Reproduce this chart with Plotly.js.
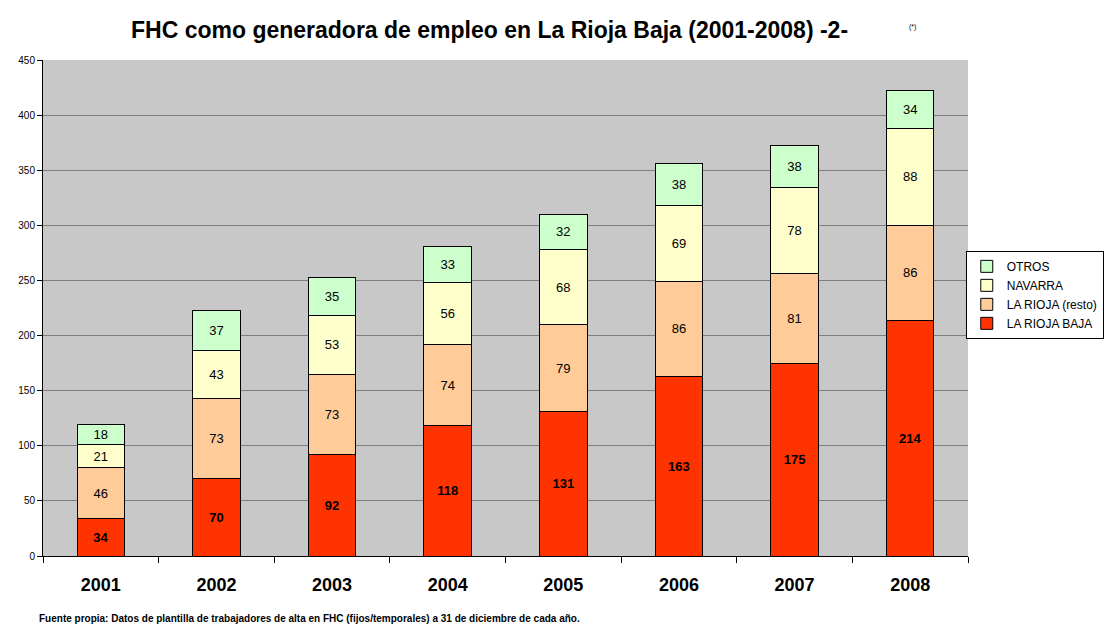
<!DOCTYPE html>
<html>
<head>
<meta charset="utf-8">
<script src="https://cdn.plot.ly/plotly-3.0.1.min.js"></script>
<style>body{margin:0;background:#fff}</style>
</head>
<body>
<div id="chart" style="width:1105px;height:624px"></div>
<script>
const years = ['2001', '2002', '2003', '2004', '2005', '2006', '2007', '2008'];
const riojaBaja = [34, 70, 92, 118, 131, 163, 175, 214];
const riojaResto = [46, 73, 73, 74, 79, 86, 81, 86];
const navarra = [21, 43, 53, 56, 68, 69, 78, 88];
const otros = [18, 37, 35, 33, 32, 38, 38, 34];

const FONT = 'Liberation Sans, Arial, sans-serif';

function series(name, vals, color, bold) {
    return {
        x: years,
        y: vals,
        name: name,
        type: 'bar',
        text: vals.map(v => bold ? '<b>' + v + '</b>' : String(v)),
        textposition: 'inside',
        insidetextanchor: 'middle',
        textangle: 0,
        constraintext: 'none',
        textfont: {family: FONT, size: 13, color: '#000'},
        marker: {color: color, line: {color: '#000', width: 1}},
        hoverinfo: 'x+y+name'
    };
}

var data = [
    series('LA RIOJA BAJA', riojaBaja, '#ff3300', true),
    series('LA RIOJA (resto)', riojaResto, '#ffcc99', false),
    series('NAVARRA', navarra, '#ffffcc', false),
    series('OTROS', otros, '#ccffcc', false)
];

var layout = {
    width: 1105,
    height: 624,
    margin: {l: 43, r: 137, t: 60, b: 68, autoexpand: false},
    barmode: 'stack',
    bargap: 0.59,
    paper_bgcolor: '#fff',
    plot_bgcolor: '#c8c8c8',
    font: {family: FONT, color: '#000'},
    showlegend: true,
    legend: {
        xref: 'container', yref: 'container',
        x: 0.874, y: 0.598, xanchor: 'left', yanchor: 'top',
        traceorder: 'reversed',
        bgcolor: '#fff',
        bordercolor: '#000',
        borderwidth: 1,
        font: {family: FONT, size: 12},
        itemwidth: 30,
        tracegroupgap: 0
    },
    xaxis: {
        type: 'category',
        showline: true,
        linecolor: '#000',
        ticks: 'outside',
        tickson: 'boundaries',
        ticklen: 6,
        tickcolor: '#000',
        ticklabelstandoff: 12,
        tickfont: {family: FONT, size: 18, color: '#000', weight: 'bold'},
        showgrid: false
    },
    yaxis: {
        range: [0, 450],
        dtick: 50,
        showline: true,
        linecolor: '#000',
        ticks: 'outside',
        ticklen: 5,
        tickcolor: '#000',
        tickfont: {family: FONT, size: 10, color: '#000'},
        gridcolor: '#7f7f7f',
        gridwidth: 1,
        zeroline: false
    },
    annotations: [
        {
            text: '<b>FHC como generadora de empleo en La Rioja Baja (2001-2008) -2-</b>',
            xref: 'paper', yref: 'paper', x: 0.483, y: 1, yshift: 30,
            xanchor: 'center', yanchor: 'middle', showarrow: false,
            font: {family: FONT, size: 23, color: '#000'}
        },
        {
            text: '(*)',
            xref: 'paper', yref: 'paper', x: 0.94, y: 1, yshift: 33,
            xanchor: 'center', yanchor: 'middle', showarrow: false,
            font: {family: FONT, size: 7, color: '#000'}
        },
        {
            text: '<b>Fuente propia: Datos de plantilla de trabajadores de alta en FHC (fijos/temporales) a 31 de diciembre de cada año.</b>',
            xref: 'paper', yref: 'paper', x: -0.0065, y: 0, yshift: -62,
            xanchor: 'left', yanchor: 'middle', showarrow: false,
            font: {family: FONT, size: 10, color: '#000'}
        }
    ]
};

Plotly.newPlot('chart', data, layout, {displayModeBar: false});
</script>
</body>
</html>
